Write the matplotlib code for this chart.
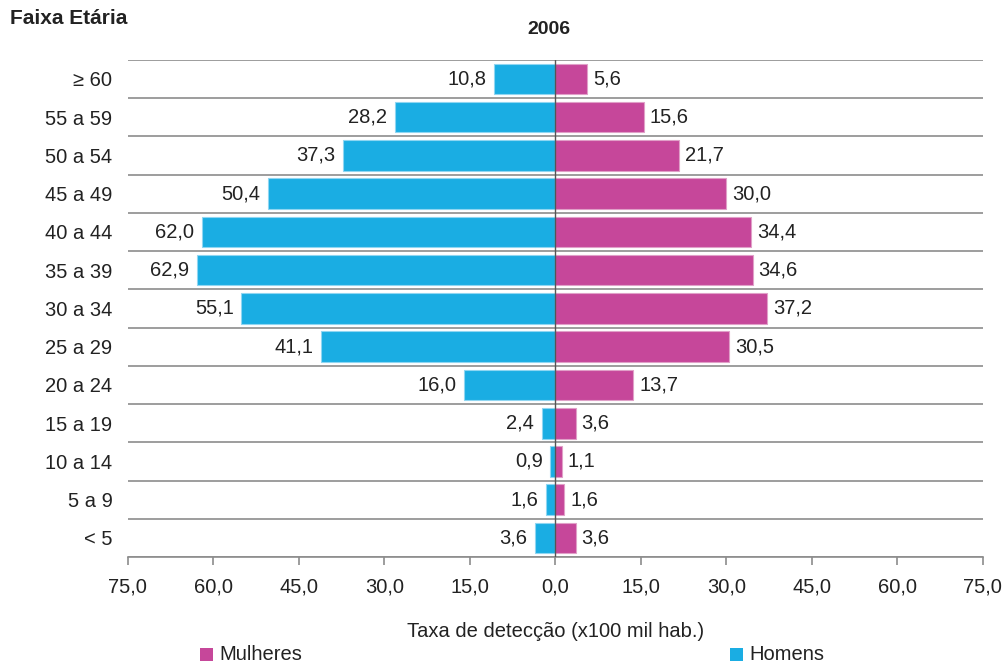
import numpy as np
import matplotlib.pyplot as plt
from matplotlib.patches import Rectangle

plt.rcParams['font.family'] = ['Liberation Sans', 'DejaVu Sans']

# faixas etárias, de cima para baixo
faixas = ['≥ 60', '55 a 59', '50 a 54', '45 a 49', '40 a 44', '35 a 39', '30 a 34',
          '25 a 29', '20 a 24', '15 a 19', '10 a 14', '5 a 9', '< 5']
homens = [10.8, 28.2, 37.3, 50.4, 62.0, 62.9, 55.1, 41.1, 16.0, 2.4, 0.9, 1.6, 3.6]
mulheres = [5.6, 15.6, 21.7, 30.0, 34.4, 34.6, 37.2, 30.5, 13.7, 3.6, 1.1, 1.6, 3.6]
xticks = [-75, -60, -45, -30, -15, 0, 15, 30, 45, 60, 75]

azul = '#1AADE3'
rosa = '#C6479A'
cinza = '#8C8C8C'
txt = '#222222'
fs = 14.5


def fmt(v):
    return f'{abs(v):.1f}'.replace('.', ',')


fig = plt.figure(figsize=(10.06, 6.64), dpi=100)
ax = fig.add_axes([0.127, 0.161, 0.850, 0.749])

y = np.arange(len(faixas))
ax.barh(y, [-h for h in homens], height=0.8, color=azul, edgecolor='#8fd6f2', linewidth=0.8, zorder=3)
ax.barh(y, mulheres, height=0.8, color=rosa, edgecolor='#e0a0c8', linewidth=0.8, zorder=3)

for i, (h, m) in enumerate(zip(homens, mulheres)):
    ax.text(-h - 1.3, i, fmt(h), ha='right', va='center', fontsize=fs, color=txt)
    ax.text(m + 1.0, i, fmt(m), ha='left', va='center', fontsize=fs, color=txt)

# linhas entre as faixas
for b in np.arange(-0.5, len(faixas), 1.0):
    ax.axhline(b, color=cinza, linewidth=1.2, zorder=1)
ax.axvline(0, color='#555555', linewidth=1.0, zorder=4)

ax.set_xlim(-75, 75)
ax.set_ylim(len(faixas) - 0.5, -0.5)
ax.set_xticks(xticks)
ax.set_xticklabels([fmt(t) for t in xticks], fontsize=fs, color=txt)
ax.set_yticks(y)
ax.set_yticklabels(faixas, fontsize=fs, color=txt)
ax.tick_params(axis='y', length=0, pad=11)
ax.tick_params(axis='x', length=6, color=cinza, width=1.2, pad=9)
for s in ['top', 'left', 'right']:
    ax.spines[s].set_visible(False)
ax.spines['bottom'].set_color(cinza)
ax.spines['bottom'].set_linewidth(1.2)

ax.set_xlabel('Taxa de detecção (x100 mil hab.)', fontsize=fs, color=txt, labelpad=18)
fig.text(0.546, 0.955, '2006', ha='center', va='center', fontsize=14, fontweight='bold', color=txt)
fig.text(0.010, 0.972, 'Faixa Etária', ha='left', va='center', fontsize=15, fontweight='bold', color=txt)

# legenda
for x0, cor, rotulo in [(0.199, rosa, 'Mulheres'), (0.726, azul, 'Homens')]:
    fig.add_artist(Rectangle((x0, 0.005), 0.0129, 0.0196, transform=fig.transFigure,
                             facecolor=cor, edgecolor='none'))
    fig.text(x0 + 0.019, 0.014, rotulo, ha='left', va='center', fontsize=fs, color=txt)

fig.savefig('out.png', dpi=100)
